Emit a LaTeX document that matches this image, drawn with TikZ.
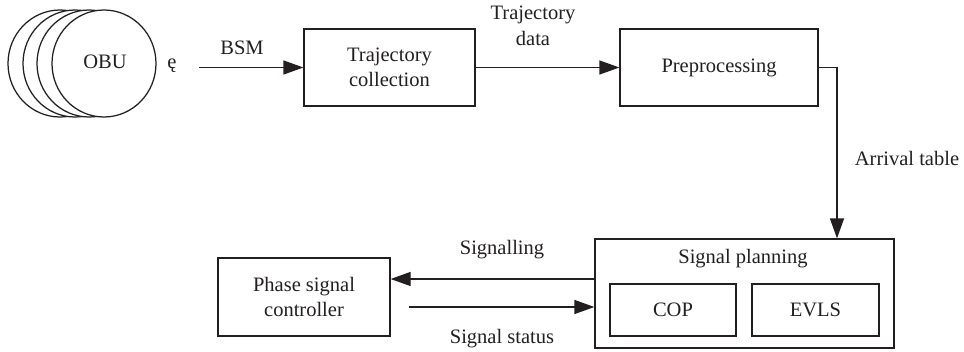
\documentclass[tikz,border=0pt]{standalone}
\usepackage{fontspec}
\setmainfont{Liberation Serif}
\usetikzlibrary{shapes.geometric,arrows.meta}
\definecolor{ink}{HTML}{231F20}
\begin{document}
\begin{tikzpicture}[x=1pt,y=-1pt,
  every node/.style={font=\fontsize{20.5}{25.5}\selectfont, text=ink},
  box/.style={draw=ink, line width=1.25pt, fill=white, inner sep=0pt, align=center},
  unit/.style={draw=ink, line width=1.25pt, fill=white, ellipse, inner sep=0pt,
               minimum width=104pt, minimum height=107pt},
  arr/.style={draw=ink, line width=1.25pt, -{Triangle[length=20pt,width=14pt]}},
  lbl/.style={align=center, inner sep=0pt}]
\useasboundingbox (0,0) rectangle (964,351);

% stacked on-board units, back to front
\node[unit] (u1) at (60,63.5) {};
\node[unit] (u2) at (75,63.5) {};
\node[unit] (u3) at (89,63.5) {};
\node[unit] (u4) at (104,63.5) {};
\node[lbl] (obu) at (105,62) {OBU};
\node[lbl] (mark) at (172,66) {ę};

% processing chain
\node[box, minimum width=171pt, minimum height=77pt] (traj) at (389.5,67.5) {Trajectory\\collection};
\node[box, minimum width=198pt, minimum height=77pt] (prep) at (719,67.5) {Preprocessing};
\node[box, minimum width=299pt, minimum height=109pt] (plan) at (744.5,293.5) {};
\node[lbl] (plantitle) at (743,259) {Signal planning};
\node[box, minimum width=126pt, minimum height=52pt] (cop) at (673,310) {COP};
\node[box, minimum width=127pt, minimum height=52pt] (evls) at (815.5,310) {EVLS};
\node[box, minimum width=172pt, minimum height=78pt] (phase) at (304,297) {Phase signal\\controller};

% connectors
\coordinate (bsmstart) at (199,67.5);
\coordinate (dropx) at (837,0);
\coordinate (sgy) at (0,279);
\coordinate (ssstart) at (409,307);

\draw[arr] (bsmstart) -- (traj.west);
\draw[arr] (traj.east) -- (prep.west);
\draw[arr] (prep.east) -| (dropx |- plan.north);
\draw[arr] (plan.west |- sgy) -- (phase.east |- sgy);
\draw[arr] (ssstart) -- (plan.west |- ssstart);

% connector labels
\node[lbl] (bsm) at (242,48) {BSM};
\node[lbl] (tdata) at (533,26) {Trajectory\\data};
\node[lbl] (arrival) at (907,158) {Arrival table};
\node[lbl] (signalling) at (502,250) {Signalling};
\node[lbl] (status) at (502,339) {Signal status};
\end{tikzpicture}
\end{document}
